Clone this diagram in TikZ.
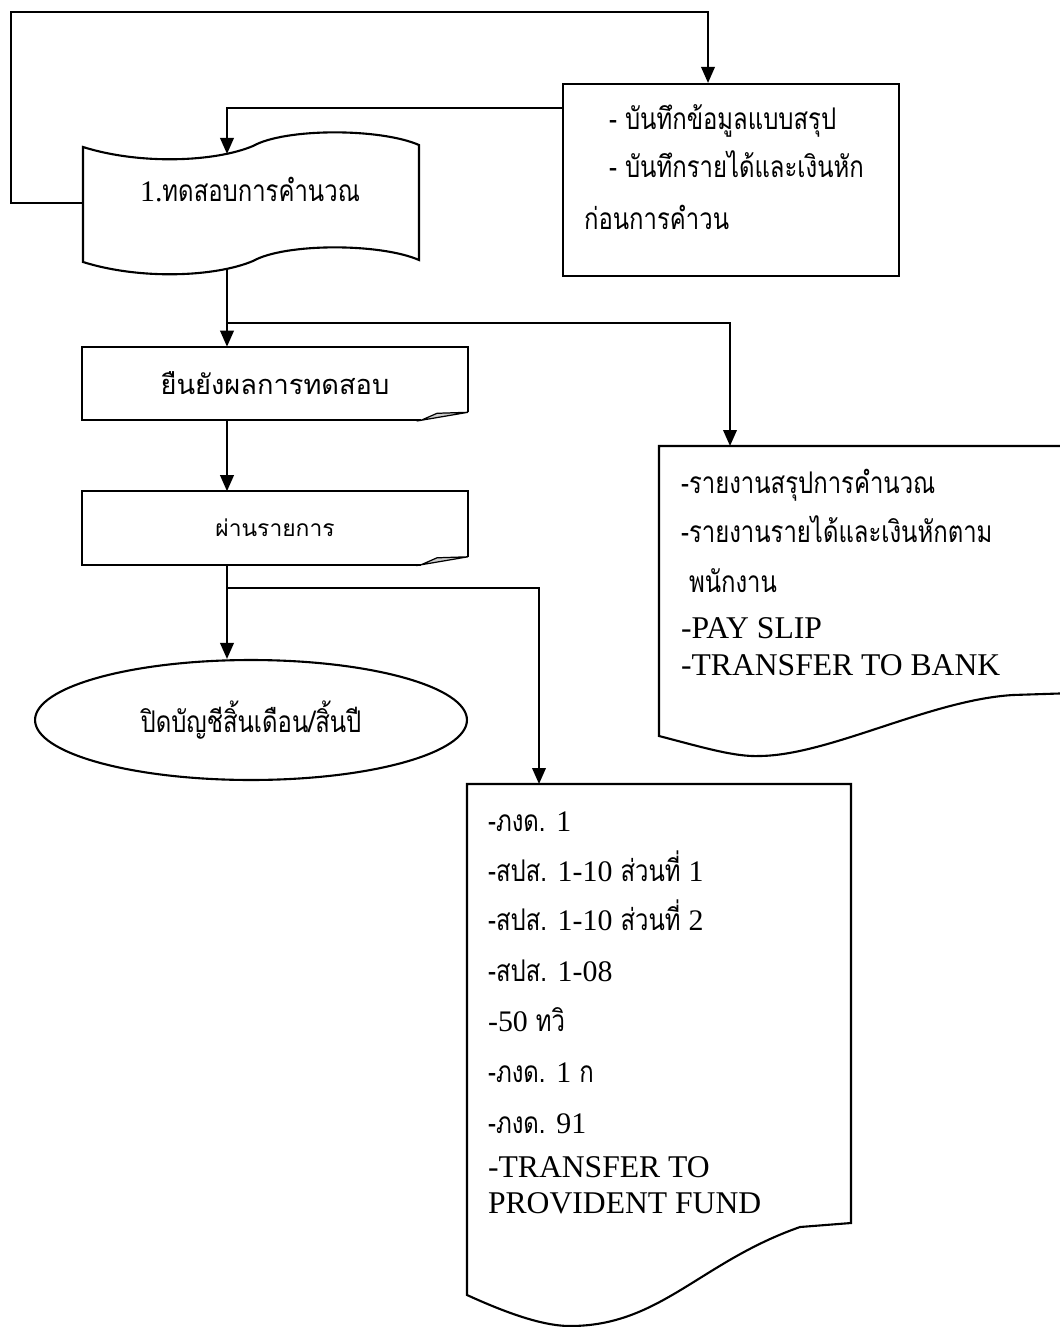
\documentclass[tikz,border=0pt]{standalone}
\usepackage{fontspec}
\setmainfont{Liberation Serif}
\newfontfamily\thaifont[Script=Thai,FakeStretch=0.8]{Loma}
\newfontfamily\thaisans[Script=Thai]{Loma}
\newcommand{\engtext}[1]{{\rmfamily\fontsize{17}{20}\selectfont #1}}
\usetikzlibrary{positioning,shapes.geometric,arrows.meta}

\begin{document}
\begin{tikzpicture}[
        x=0.02cm, y=-0.02cm,
        line width=1.2pt,
        >={Triangle[length=0.32cm,width=0.27cm]},
        process/.style={
            rectangle, draw = black, minimum width = 6.72cm, minimum height = 3.84cm
        },
        card/.style={
            rectangle, draw = none, inner sep = 0pt, minimum width = 7.68cm, minimum height = 1.43cm
        },
        terminal/.style={
            ellipse, draw = black, inner sep = 0pt, minimum width = 8.64cm, minimum height = 2.4cm,
            font = \thaifont\fontsize{17}{20}\selectfont
        },
        thline/.style={
            anchor = base west, inner sep = 0pt, font = \thaifont\fontsize{17}{20}\selectfont
        },
        enline/.style={
            anchor = base west, inner sep = 0pt, font = \rmfamily\fontsize{18}{21}\selectfont
        },
    ]
    \useasboundingbox (0,0) rectangle (1059,1327);

    % summary record box
    \node (saveBox) [process] at (731,180) {};
    \node (saveLineA) [thline] at (608,130) {- บันทึกข้อมูลแบบสรุป};
    \node (saveLineB) [thline] at (608,178) {- บันทึกรายได้และเงินหัก};
    \node (saveLineC) [thline] at (583,230) {ก่อนการคำวน};

    % punched tape
    \draw (83,147) .. controls (140,165) and (215,162) .. (253,146) .. controls (285,128) and (380,128) .. (419,145)
        -- (419,260) .. controls (380,243) and (285,243) .. (253,261) .. controls (215,277) and (140,280) .. (83,262) -- cycle;
    \node (testCalc) [thline, anchor=base] at (250,202) {\engtext{1.}ทดสอบการคำนวณ};
    \coordinate (tapeTop) at (227,154);
    \coordinate (tapeBottom) at (227,269);
    \coordinate (tapeWest) at (83,203);
    \coordinate (loopCorner) at (11,12);

    % cards with folded corner
    \node (confirmTest) [card, font=\thaisans\fontsize{15.5}{18}\selectfont] at (275,383.5) {ยืนยังผลการทดสอบ};
    \node (postItems) [card, font=\thaisans\fontsize{13}{16}\selectfont] at (275,528) {ผ่านรายการ};
    \foreach \card in {confirmTest, postItems} {
        \draw ([xshift=-0.94cm]\card.south east) -- (\card.south west) -- (\card.north west)
            -- (\card.north east) -- ([yshift=0.16cm]\card.south east);
        \draw[fill=gray!40, line width=0.7pt] ([xshift=-0.94cm]\card.south east)
            -- ([xshift=-0.62cm,yshift=0.14cm]\card.south east) -- ([yshift=0.16cm]\card.south east) -- cycle;
    }

    \node (closeMonth) [terminal] at (251,720) {ปิดบัญชีสิ้นเดือน/สิ้นปี};

    % report document
    \draw (659,446) -- (1075,446) -- (1075,693) -- (1013,695) .. controls (930,700) and (830,755) .. (760,756)
        .. controls (735,757) and (705,748) .. (659,736) -- cycle;
    \coordinate (reportTop) at (730,446);
    \node (reportLineA) [thline] at (680,493) {-รายงานสรุปการคำนวณ};
    \node (reportLineB) [thline] at (680,542) {-รายงานรายได้และเงินหักตาม};
    \node (reportLineC) [thline] at (688,592) {พนักงาน};
    \node (reportLineD) [enline] at (680,638) {-PAY SLIP};
    \node (reportLineE) [enline] at (680,675) {-TRANSFER TO BANK};

    % forms document
    \draw (467,784) -- (851,784) -- (851,1223) -- (800,1227) .. controls (700,1262) and (660,1326) .. (570,1326)
        .. controls (540,1326) and (500,1310) .. (467,1295) -- cycle;
    \coordinate (formsTop) at (539,784);
    \foreach \y/\txt [count=\i] in {
        831/{-ภงด. \engtext{1}},
        881/{-สปส. \engtext{1-10} ส่วนที่ \engtext{1}},
        930/{-สปส. \engtext{1-10} ส่วนที่ \engtext{2}},
        981/{-สปส. \engtext{1-08}},
        1031/{\engtext{-50} ทวิ},
        1082/{-ภงด. \engtext{1} ก},
        1133/{-ภงด. \engtext{91}}
    }
        \node (formLine\i) [thline] at (487,\y) {\txt};
    \node (formLineH) [enline] at (487,1177) {-TRANSFER TO};
    \node (formLineI) [enline] at (487,1213) {PROVIDENT FUND};

    % connectors
    \coordinate (splitTest) at (227,323);
    \coordinate (splitPost) at (227,588);
    \draw[->] (tapeWest) -| (loopCorner) -| ([xshift=-0.46cm]saveBox.north);
    \draw[->] ([yshift=1.44cm]saveBox.west) -| (tapeTop);
    \draw[->] (tapeBottom) -- (tapeBottom |- confirmTest.north);
    \draw[->] (splitTest) -| (reportTop);
    \draw[->] (confirmTest.south -| tapeBottom) -- (postItems.north -| tapeBottom);
    \draw[->] (postItems.south -| tapeBottom) -- (closeMonth.north -| tapeBottom);
    \draw[->] (splitPost) -| (formsTop);

\end{tikzpicture}
\end{document}
